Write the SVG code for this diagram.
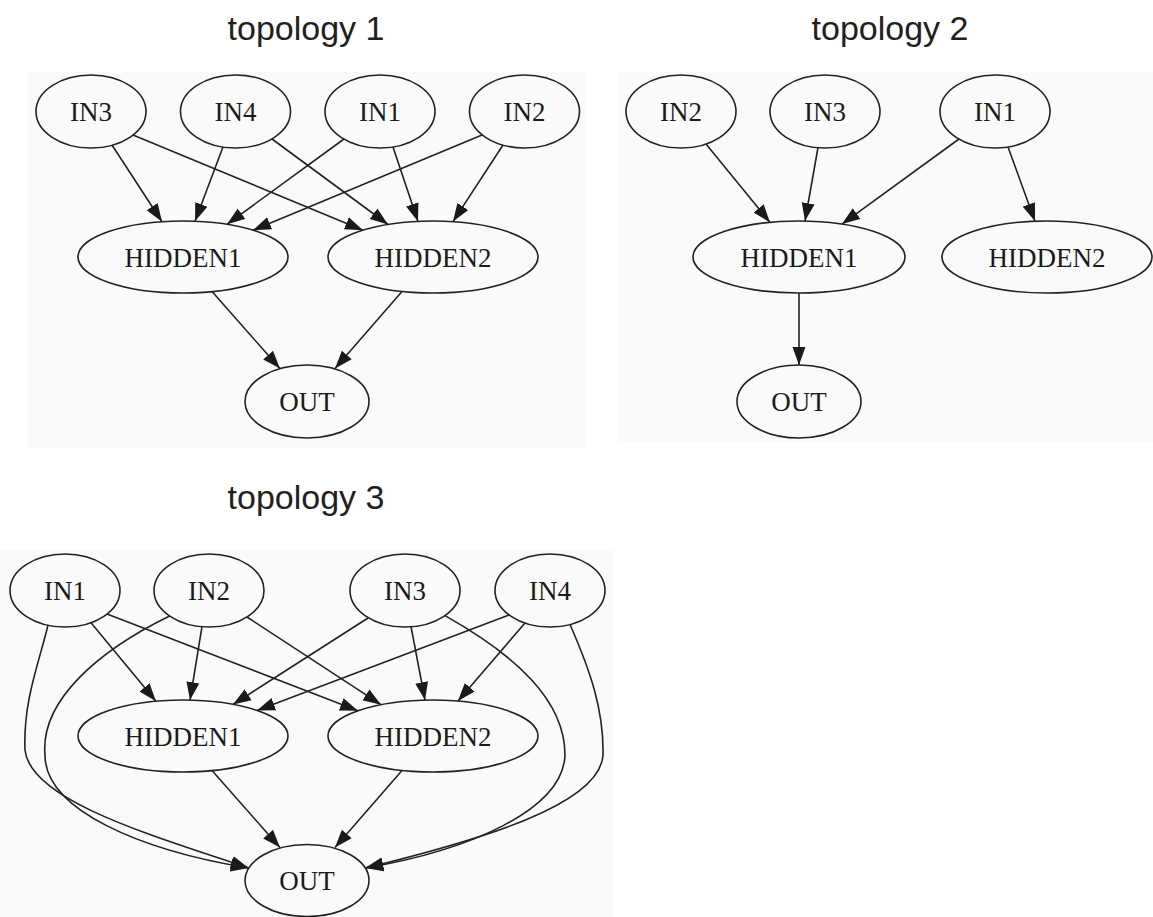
<svg xmlns="http://www.w3.org/2000/svg" width="1153" height="917" viewBox="0 0 1153 917">
<style>
.panel{fill:#fafafa;stroke:none}
.title{font-family:"Liberation Sans",Arial,sans-serif;font-size:34px;fill:#231f20;text-anchor:middle}
.node ellipse{fill:none;stroke:#222;stroke-width:1.6}
.node text{font-family:"Liberation Serif","Times New Roman",serif;font-size:27px;fill:#1a1a1a;text-anchor:middle}
.edges path{fill:none;stroke:#222;stroke-width:1.6;marker-end:url(#ah)}
</style>
<defs>
<marker id="ah" markerUnits="userSpaceOnUse" markerWidth="18" markerHeight="14" refX="18" refY="7" orient="auto" viewBox="0 0 18 14">
<path d="M0,0.5 L18,7 L0,13.5 z" fill="#1a1a1a"/>
</marker>
</defs>
<rect width="1153" height="917" fill="#ffffff"/>

<!-- panels -->
<rect class="panel" x="28" y="72" width="557" height="376"/>
<rect class="panel" x="618" y="72" width="535" height="370"/>
<rect class="panel" x="0" y="550" width="613" height="367"/>

<text class="title" x="306" y="40">topology 1</text>
<text class="title" x="890" y="40">topology 2</text>
<text class="title" x="306" y="509">topology 3</text>

<!-- ===== topology 1 ===== -->
<g id="t1-edges" class="edges">
<path d="M112,145 L162,221.7"/>
<path d="M133,135 L363,230.2"/>
<path d="M223,147 L195,221.2"/>
<path d="M272,139 L388,224.5"/>
<path d="M344,139 L227,224.3"/>
<path d="M393,147 L418,221.4"/>
<path d="M482,135 L253,230.2"/>
<path d="M503,145 L453,221.6"/>
<path d="M212,291.5 L280,368.6"/>
<path d="M402,291.5 L335,368.6"/>
</g>
<g id="t1-IN3" class="node"><ellipse cx="91" cy="111.5" rx="55" ry="36.5"/><text x="91" y="121">IN3</text></g>
<g id="t1-IN4" class="node"><ellipse cx="235.5" cy="111.5" rx="55" ry="36.5"/><text x="235.5" y="121">IN4</text></g>
<g id="t1-IN1" class="node"><ellipse cx="380" cy="111.5" rx="55" ry="36.5"/><text x="380" y="121">IN1</text></g>
<g id="t1-IN2" class="node"><ellipse cx="524.5" cy="111.5" rx="55" ry="36.5"/><text x="524.5" y="121">IN2</text></g>
<g id="t1-HIDDEN1" class="node"><ellipse cx="183" cy="257" rx="105" ry="36"/><text x="183" y="266.5">HIDDEN1</text></g>
<g id="t1-HIDDEN2" class="node"><ellipse cx="433" cy="257" rx="105" ry="36"/><text x="433" y="266.5">HIDDEN2</text></g>
<g id="t1-OUT" class="node"><ellipse cx="307" cy="401.5" rx="62" ry="36.5"/><text x="307" y="411">OUT</text></g>

<!-- ===== topology 2 ===== -->
<g id="t2-edges" class="edges">
<path d="M706,144 L770,222.4"/>
<path d="M818,147.5 L805,221"/>
<path d="M959,139 L842,224.1"/>
<path d="M1008,147 L1035,221.3"/>
<path d="M799,293 L799,365"/>
</g>
<g id="t2-IN2" class="node"><ellipse cx="681" cy="111.5" rx="55" ry="36.5"/><text x="681" y="121">IN2</text></g>
<g id="t2-IN3" class="node"><ellipse cx="825" cy="111.5" rx="55" ry="36.5"/><text x="825" y="121">IN3</text></g>
<g id="t2-IN1" class="node"><ellipse cx="995" cy="111.5" rx="55" ry="36.5"/><text x="995" y="121">IN1</text></g>
<g id="t2-HIDDEN1" class="node"><ellipse cx="799" cy="257" rx="106" ry="36"/><text x="799" y="266.5">HIDDEN1</text></g>
<g id="t2-HIDDEN2" class="node"><ellipse cx="1047" cy="257" rx="105" ry="36"/><text x="1047" y="266.5">HIDDEN2</text></g>
<g id="t2-OUT" class="node"><ellipse cx="799" cy="401.5" rx="62" ry="36.5"/><text x="799" y="411">OUT</text></g>

<!-- ===== topology 3 ===== -->
<g id="t3-edges" class="edges">
<path d="M91,622.7 L156,701.2"/>
<path d="M107,614 L358,710.8"/>
<path d="M202,626.5 L190,700.1"/>
<path d="M247,617 L381,704.7"/>
<path d="M368,618 L233,704.4"/>
<path d="M411,626.5 L425,700.1"/>
<path d="M509,615 L257,710.5"/>
<path d="M525,623 L458,701"/>
<path d="M212,770.5 L280,847.6"/>
<path d="M402,770.5 L335,847.6"/>
<path d="M48,625 C40,660 23,700 25,750 C30,800 150,835 248.7,868"/>
<path d="M169.6,616 C100,650 40,700 45,755 C45,810 140,850 248.7,868"/>
<path d="M445,615.6 C515,655 565,700 565,755 C563,810 470,850 365.3,868"/>
<path d="M570,624.5 C590,670 604,710 603,755 C600,805 480,840 365.3,868"/>
</g>
<g id="t3-IN1" class="node"><ellipse cx="65" cy="590.5" rx="55" ry="36.5"/><text x="65" y="600">IN1</text></g>
<g id="t3-IN2" class="node"><ellipse cx="209" cy="590.5" rx="55" ry="36.5"/><text x="209" y="600">IN2</text></g>
<g id="t3-IN3" class="node"><ellipse cx="405" cy="590.5" rx="55" ry="36.5"/><text x="405" y="600">IN3</text></g>
<g id="t3-IN4" class="node"><ellipse cx="550" cy="590.5" rx="55" ry="36.5"/><text x="550" y="600">IN4</text></g>
<g id="t3-HIDDEN1" class="node"><ellipse cx="183" cy="736" rx="105" ry="36"/><text x="183" y="745.5">HIDDEN1</text></g>
<g id="t3-HIDDEN2" class="node"><ellipse cx="433" cy="736" rx="105" ry="36"/><text x="433" y="745.5">HIDDEN2</text></g>
<g id="t3-OUT" class="node"><ellipse cx="307" cy="880.5" rx="62" ry="36"/><text x="307" y="890">OUT</text></g>
</svg>
